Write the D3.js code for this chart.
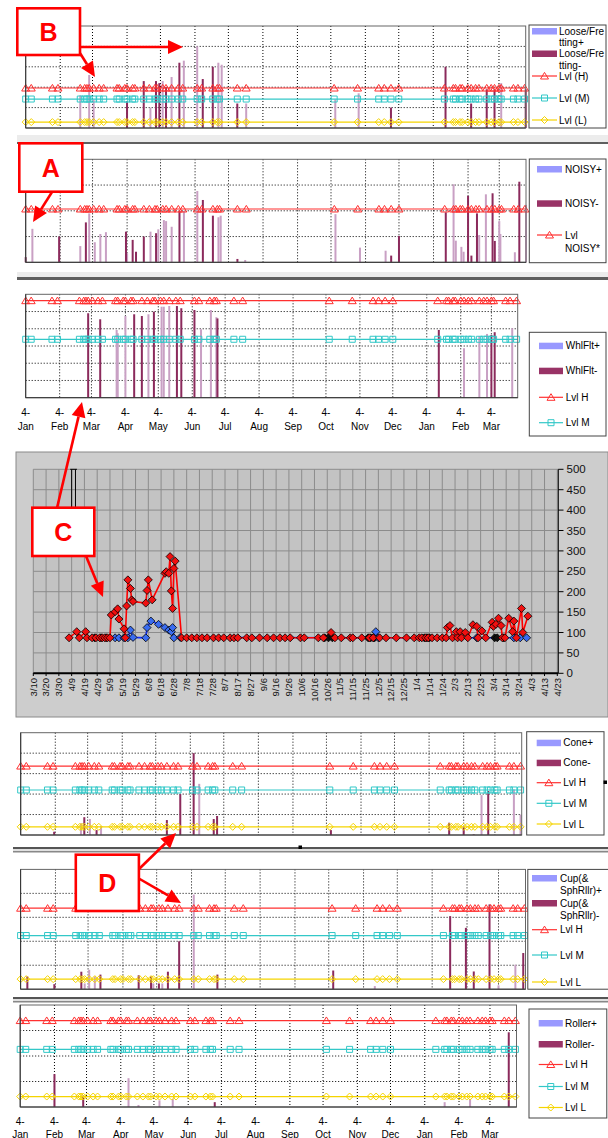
<!DOCTYPE html>
<meta charset="utf-8">
<style>
  body { margin: 0; background: #fff; }
  svg { display: block; font-family: "Liberation Sans", Arial, sans-serif; }
</style>
<svg width="608" height="1138"></svg>
<script src="https://d3js.org/d3.v7.min.js"></script>
<script>
var parse = d3.timeParse("%Y-%m-%d");

// ---------- data ----------
var monthNames = ["Jan", "Feb", "Mar", "Apr", "May", "Jun", "Jul", "Aug", "Sep", "Oct", "Nov", "Dec", "Jan", "Feb", "Mar"];

var inspectionDates = ["2004-01-04", "2004-01-09", "2004-01-28", "2004-02-02", "2004-02-22", "2004-02-26", "2004-02-28",
  "2004-03-01", "2004-03-05", "2004-03-10", "2004-03-14", "2004-03-26", "2004-03-28", "2004-04-02", "2004-04-04",
  "2004-04-09", "2004-04-11", "2004-04-19", "2004-04-24", "2004-04-29", "2004-05-01", "2004-05-06", "2004-05-09",
  "2004-05-14", "2004-05-20", "2004-05-24", "2004-06-06", "2004-06-10", "2004-06-20", "2004-06-24", "2004-06-26",
  "2004-07-12", "2004-07-20", "2004-10-07", "2004-10-28", "2004-11-16", "2004-11-21", "2004-11-27", "2004-12-04",
  "2005-01-14", "2005-01-22", "2005-01-24", "2005-01-28", "2005-01-30", "2005-02-04", "2005-02-07", "2005-02-11",
  "2005-02-14", "2005-02-21", "2005-02-25", "2005-02-28", "2005-03-04", "2005-03-06", "2005-03-17", "2005-03-21",
  "2005-03-27"];

var looseUp = [["2004-02-22", 1.6], ["2004-03-01", 2.6], ["2004-03-05", 1.4], ["2004-04-25", 1.0], ["2004-05-06", 2.3],
  ["2004-05-14", 2.5], ["2004-05-25", 3.3], ["2004-06-06", 4.0], ["2004-06-25", 3.2], ["2004-06-28", 3.1],
  ["2004-07-20", 1.2], ["2004-10-08", 1.4], ["2004-10-29", 1.7], ["2005-03-06", 2.2]];
var looseDown = [["2004-04-04", 1.3], ["2004-04-19", 2.3], ["2004-04-30", 2.3], ["2004-05-03", 2.2], ["2004-05-09", 2.0],
  ["2004-05-21", 3.2], ["2004-06-11", 2.4], ["2004-06-20", 3.0], ["2004-07-12", 1.2], ["2004-11-27", 1.0],
  ["2005-01-15", 3.0], ["2005-02-07", 1.2], ["2005-02-21", 1.9], ["2005-02-28", 1.9], ["2005-03-28", 1.9]];
var looseLevels = [1.96, 1.42, 0.29];

var noisyUp = [["2004-01-10", 1.3], ["2004-02-22", 0.63], ["2004-03-01", 1.9], ["2004-03-06", 0.78], ["2004-03-11", 1.1],
  ["2004-03-16", 1.17], ["2004-04-04", 0.35], ["2004-04-25", 1.19], ["2004-05-02", 1.28], ["2004-05-07", 1.64],
  ["2004-05-09", 1.6], ["2004-05-14", 1.38], ["2004-05-25", 2.0], ["2004-06-06", 2.77], ["2004-06-25", 1.75],
  ["2004-06-27", 1.81], ["2004-07-19", 0.09], ["2004-10-08", 1.87], ["2004-10-30", 0.57], ["2004-11-22", 0.45],
  ["2005-01-22", 3.03], ["2005-01-24", 0.84], ["2005-01-29", 0.6], ["2005-01-31", 0.41], ["2005-02-14", 1.06],
  ["2005-02-20", 2.64], ["2005-03-04", 1.6], ["2005-03-05", 1.1], ["2005-03-18", 0.39], ["2005-03-28", 2.23]];
var noisyDown = [["2004-01-04", 0.2], ["2004-02-03", 1.0], ["2004-02-27", 1.55], ["2004-04-03", 1.19], ["2004-04-09", 0.87],
  ["2004-04-12", 0.41], ["2004-04-19", 1.0], ["2004-04-30", 1.13], ["2004-05-21", 2.0], ["2004-06-11", 2.42],
  ["2004-06-20", 1.81], ["2004-07-12", 0.13], ["2004-11-27", 0.26], ["2004-12-04", 1.02], ["2005-01-15", 1.94],
  ["2005-02-04", 2.58], ["2005-02-07", 0.26], ["2005-02-12", 1.9], ["2005-02-26", 2.68], ["2005-02-28", 0.83],
  ["2005-03-22", 3.13]];
var noisyLevels = [2.07];

var whlUp = [["2004-03-27", 3.93], ["2004-03-28", 3.74], ["2004-04-04", 4.74], ["2004-04-25", 4.84], ["2004-05-07", 5.28],
  ["2004-05-09", 5.28], ["2004-05-14", 5.32], ["2004-06-12", 3.97], ["2004-06-21", 5.09], ["2004-06-26", 4.67],
  ["2005-02-07", 2.87], ["2005-02-21", 3.58], ["2005-02-28", 3.7], ["2005-03-23", 4.03]];
var whlDown = [["2004-03-01", 4.9], ["2004-03-12", 4.55], ["2004-04-12", 4.84], ["2004-04-19", 4.74], ["2004-04-30", 4.99],
  ["2004-05-21", 5.32], ["2004-05-25", 5.19], ["2004-06-06", 5.09], ["2004-06-27", 4.6], ["2005-01-15", 3.93],
  ["2005-03-04", 3.64], ["2005-03-07", 3.8]];
var whlLevels = [5.63, 3.39];

var coneUp = [["2004-02-27", 0.57], ["2004-03-06", 0.78], ["2004-03-16", 0.44], ["2004-06-12", 2.5], ["2005-02-20", 1.95],
  ["2005-03-21", 2.23], ["2005-03-27", 1.0]];
var coneDown = [["2004-02-03", 0.16], ["2004-03-01", 0.87], ["2004-03-12", 0.24], ["2004-05-14", 0.73], ["2004-05-26", 2.0],
  ["2004-06-07", 4.0], ["2004-06-25", 0.78], ["2004-06-28", 0.93], ["2004-10-08", 0.24], ["2005-01-22", 0.6],
  ["2005-02-04", 0.4], ["2005-02-13", 0.03], ["2005-02-26", 2.15]];
var coneLevels = [3.37, 2.2, 0.4];

var cupUp = [["2004-03-01", 0.24], ["2004-03-05", 0.81], ["2004-03-10", 0.53], ["2004-05-01", 0.24], ["2004-05-09", 0.24],
  ["2004-06-06", 3.95], ["2004-11-14", 0.13], ["2005-03-04", 0.16], ["2005-03-19", 1.02]];
var cupDown = [["2004-01-10", 0.53], ["2004-02-03", 0.21], ["2004-02-27", 0.73], ["2004-03-15", 0.61], ["2004-04-18", 0.58],
  ["2004-04-29", 0.53], ["2004-05-06", 0.24], ["2004-05-14", 0.73], ["2004-05-24", 2.0], ["2004-06-27", 0.61],
  ["2004-10-08", 0.78], ["2005-01-20", 3.05], ["2005-02-03", 2.56], ["2005-02-10", 0.74], ["2005-02-24", 3.54],
  ["2005-03-26", 1.51]];
var cupLevels = [3.38, 2.24, 0.42];

var rollerUp = [["2004-04-11", 1.13], ["2004-04-20", 0.08], ["2004-05-09", 0.26], ["2004-05-21", 0.32], ["2005-01-22", 0.19],
  ["2005-02-14", 0.32]];
var rollerDown = [["2004-02-04", 1.29], ["2004-03-01", 0.45], ["2004-06-28", 0.19], ["2005-03-21", 2.93]];
var rollerLevels = [3.39, 2.26, 0.41];

// grey chart (3/10 .. 4/23)
var gcRed = [["2003-04-07", 87], ["2003-04-13", 102], ["2003-04-15", 87], ["2003-04-20", 102], ["2003-04-21", 87],
  ["2003-04-25", 87], ["2003-04-28", 87], ["2003-05-01", 87], ["2003-05-03", 87], ["2003-05-05", 87], ["2003-05-07", 87],
  ["2003-05-09", 87], ["2003-05-10", 143], ["2003-05-13", 151], ["2003-05-15", 158], ["2003-05-16", 133], ["2003-05-20", 109],
  ["2003-05-21", 87], ["2003-05-22", 165], ["2003-05-23", 229], ["2003-05-25", 208], ["2003-05-26", 180], ["2003-05-27", 176],
  ["2003-06-06", 172], ["2003-06-07", 203], ["2003-06-08", 229], ["2003-06-11", 180], ["2003-06-21", 245], ["2003-06-22", 249],
  ["2003-06-24", 245], ["2003-06-25", 286], ["2003-06-26", 202], ["2003-06-27", 159], ["2003-06-28", 257], ["2003-06-29", 275],
  ["2003-07-04", 87], ["2003-07-08", 87], ["2003-07-12", 87], ["2003-07-16", 87], ["2003-07-20", 87], ["2003-07-24", 87],
  ["2003-07-29", 87], ["2003-08-02", 87], ["2003-08-06", 87], ["2003-08-11", 87], ["2003-08-14", 87], ["2003-08-17", 87],
  ["2003-08-24", 87], ["2003-08-28", 87], ["2003-09-03", 87], ["2003-09-09", 87], ["2003-09-14", 87], ["2003-09-19", 87],
  ["2003-09-23", 87], ["2003-09-27", 87], ["2003-10-05", 87], ["2003-10-08", 87], ["2003-10-19", 87], ["2003-10-23", 87],
  ["2003-10-29", 100], ["2003-11-01", 87], ["2003-11-06", 87], ["2003-11-13", 87], ["2003-11-15", 87], ["2003-11-22", 87],
  ["2003-11-28", 87], ["2003-12-01", 87], ["2003-12-06", 87], ["2003-12-11", 87], ["2003-12-19", 87], ["2003-12-27", 87],
  ["2004-01-02", 87], ["2004-01-06", 87], ["2004-01-08", 87], ["2004-01-11", 87], ["2004-01-13", 87], ["2004-01-16", 87],
  ["2004-01-20", 87], ["2004-01-24", 87], ["2004-01-27", 87], ["2004-01-28", 112], ["2004-01-30", 117], ["2004-02-01", 87],
  ["2004-02-04", 102], ["2004-02-05", 87], ["2004-02-07", 102], ["2004-02-08", 87], ["2004-02-11", 100], ["2004-02-13", 87],
  ["2004-02-17", 119], ["2004-02-20", 115], ["2004-02-21", 87], ["2004-02-24", 104], ["2004-02-27", 87], ["2004-03-03", 125],
  ["2004-03-04", 115], ["2004-03-06", 120], ["2004-03-08", 135], ["2004-03-10", 117], ["2004-03-11", 87], ["2004-03-13", 87],
  ["2004-03-16", 135], ["2004-03-19", 102], ["2004-03-20", 128], ["2004-03-22", 87], ["2004-03-26", 159], ["2004-03-27", 100],
  ["2004-03-31", 140]];
var gcBlue = [["2003-05-13", 87], ["2003-05-16", 87], ["2003-05-20", 87], ["2003-05-23", 87], ["2003-05-25", 106],
  ["2003-05-27", 88], ["2003-06-06", 87], ["2003-06-07", 112], ["2003-06-10", 128], ["2003-06-16", 120], ["2003-06-21", 112],
  ["2003-06-24", 106], ["2003-06-26", 102], ["2003-06-27", 112], ["2003-06-28", 87], ["2003-07-03", 88], ["2003-12-01", 87],
  ["2003-12-03", 102], ["2003-12-05", 87], ["2004-02-20", 87], ["2004-03-20", 87], ["2004-03-25", 87], ["2004-03-30", 87]];
var gcBlack = [["2003-04-27", 87], ["2003-05-02", 87], ["2003-05-06", 87], ["2003-10-24", 87], ["2003-10-27", 87],
  ["2003-10-30", 87], ["2003-11-27", 87], ["2003-11-29", 87], ["2003-12-02", 87], ["2004-01-10", 87], ["2004-01-12", 87],
  ["2004-01-14", 87], ["2004-03-05", 87], ["2004-03-07", 87], ["2004-03-12", 87]];
var gcSpikeDates = ["2003-04-09", "2003-04-12"];
var gcSpikeRange = [380, 500];
var gcYTicks = d3.range(0, 501, 50);

// ---------- drawing ----------
var svg = d3.select("svg");
svg.append("rect").attr("width", 608).attr("height", 1138).attr("fill", "#fff");

var dateDomain = [parse("2004-01-04"), parse("2005-03-28")];
var monthTicks = d3.range(15).map(function (i) { return d3.timeMonth.offset(dateDomain[0], i); });

var colUp = "#c9a0c4", colDown = "#8b2a5c", legUp = "#9999ff", legDown = "#993366";
var lvlColor = { H: "#ff3030", M: "#33c8c8", L: "#f5d400" };
var lvlShape = {
  H: "M0,-3.6L4,3L-4,3Z",
  M: "M-3,-3h6v6h-6Z",
  L: "M0,-3.5L3.5,0L0,3.5L-3.5,0Z"
};

function addMarker(g, kind, x, y) {
  g.append("path").attr("d", lvlShape[kind]).attr("transform", "translate(" + x + "," + y + ")")
    .attr("fill", "none").attr("stroke", lvlColor[kind]).attr("stroke-width", 1);
}

function stripPanel(p) {
  var g = svg.append("g");
  var x = d3.scaleTime().domain(dateDomain).range([p.x0, p.x1]);
  var y = d3.scaleLinear().domain([0, p.yMax]).range([p.y1, p.y0]);

  g.append("rect").attr("x", p.x0).attr("y", p.y0).attr("width", p.x1 - p.x0).attr("height", p.y1 - p.y0)
    .attr("fill", "#fff");

  g.selectAll(".vg").data(monthTicks.slice(1)).enter().append("line")
    .attr("x1", function (d) { return x(d); }).attr("x2", function (d) { return x(d); })
    .attr("y1", p.y0).attr("y2", p.y1)
    .attr("stroke", "#000").attr("stroke-dasharray", "1,2");
  g.selectAll(".hg").data(d3.range(1, p.yMax)).enter().append("line")
    .attr("x1", p.x0).attr("x2", p.x1)
    .attr("y1", function (d) { return y(d); }).attr("y2", function (d) { return y(d); })
    .attr("stroke", "#000").attr("stroke-dasharray", "1,2");

  [[p.up, colUp], [p.down, colDown]].forEach(function (s) {
    g.selectAll(null).data(s[0]).enter().append("rect")
      .attr("x", function (d) { return x(parse(d[0])) - 1; })
      .attr("y", function (d) { return y(d[1]); })
      .attr("width", 2)
      .attr("height", function (d) { return p.y1 - y(d[1]); })
      .attr("fill", s[1]);
  });

  var kinds = ["H", "M", "L"];
  p.levels.forEach(function (v, i) {
    var k = kinds[i];
    g.append("line").attr("x1", p.x0).attr("x2", p.x1).attr("y1", y(v)).attr("y2", y(v))
      .attr("stroke", lvlColor[k]).attr("stroke-width", 1.2);
    inspectionDates.forEach(function (d) { addMarker(g, k, x(parse(d)), y(v)); });
  });

  g.append("rect").attr("x", p.x0).attr("y", p.y0).attr("width", p.x1 - p.x0).attr("height", p.y1 - p.y0)
    .attr("fill", "none").attr("stroke", "#666");
  g.append("path").attr("d", "M" + p.x0 + "," + p.y0 + "V" + p.y1 + "H" + p.x1)
    .attr("fill", "none").attr("stroke", "#333");

  if (p.axisY) {
    monthTicks.forEach(function (d, i) {
      g.append("text").attr("x", x(d)).attr("y", p.axisY[0]).attr("text-anchor", "middle")
        .attr("font-size", "10px").text("4-");
      g.append("text").attr("x", x(d)).attr("y", p.axisY[1]).attr("text-anchor", "middle")
        .attr("font-size", "10px").text(monthNames[i]);
    });
  }

  var L = p.legend;
  g.append("rect").attr("x", L.box[0]).attr("y", L.box[1]).attr("width", L.box[2] - L.box[0])
    .attr("height", L.box[3] - L.box[1]).attr("fill", "#fff").attr("stroke", "#444");
  L.items.forEach(function (it) {
    var kind = it[0], yy = it[1];
    if (kind === "up" || kind === "down") {
      g.append("rect").attr("x", L.sw[0]).attr("y", yy - 3).attr("width", L.sw[1] - L.sw[0]).attr("height", 6.5)
        .attr("fill", kind === "up" ? legUp : legDown);
    } else {
      g.append("line").attr("x1", L.sw[0]).attr("x2", L.sw[1]).attr("y1", yy).attr("y2", yy)
        .attr("stroke", lvlColor[kind]).attr("stroke-width", 1.2);
      addMarker(g, kind, (L.sw[0] + L.sw[1]) / 2, yy);
    }
    it[2].forEach(function (t, j) {
      g.append("text").attr("x", L.tx).attr("y", yy + 3.6 + j * (L.lh || 13)).attr("font-size", "10px").text(t);
    });
  });
}

// separators / chart-area frames
function band(x, y, w, h, c) {
  svg.append("rect").attr("x", x).attr("y", y).attr("width", w).attr("height", h).attr("fill", c);
}
band(17, 135, 591, 7, "#ececec");
band(17, 142, 591, 2, "#5f5f5f");
band(17, 272, 591, 5, "#ececec");
band(17, 277, 591, 3, "#5f5f5f");
band(13, 847, 595, 2, "#555");
band(13, 849, 595, 2, "#e0e0e0");
band(13, 851, 595, 1.5, "#888");
band(13, 997, 595, 2, "#555");
band(13, 999, 595, 2, "#e0e0e0");
band(13, 1001, 595, 1.5, "#888");

var panels = [
  { up: looseUp, down: looseDown, levels: looseLevels, yMax: 5, x0: 25.7, x1: 525.7, y0: 26, y1: 128,
    legend: { box: [529, 25, 606, 128], sw: [532, 557], tx: 559, lh: 11.5,
      items: [["up", 31, ["Loose/Fre", "tting+"]], ["down", 53.5, ["Loose/Fre", "tting-"]],
        ["H", 76, ["Lvl (H)"]], ["M", 98, ["Lvl (M)"]], ["L", 120, ["Lvl (L)"]]] } },
  { up: noisyUp, down: noisyDown, levels: noisyLevels, yMax: 4, x0: 25.7, x1: 526, y0: 159.3, y1: 262.3,
    legend: { box: [529.3, 159, 606, 262.7], sw: [537, 562], tx: 565,
      items: [["up", 169, ["NOISY+"]], ["down", 203.3, ["NOISY-"]], ["H", 235, ["Lvl", "NOISY*"]]] } },
  { up: whlUp, down: whlDown, levels: whlLevels, yMax: 6, x0: 25.7, x1: 517.7, y0: 294.3, y1: 397.7,
    axisY: [416, 429.5],
    legend: { box: [529.3, 332.3, 606, 436], sw: [539, 563], tx: 565.7,
      items: [["up", 345.7, ["WhlFlt+"]], ["down", 370.7, ["WhlFlt-"]], ["H", 397.3, ["Lvl H"]], ["M", 422.7, ["Lvl M"]]] } },
  { up: coneUp, down: coneDown, levels: coneLevels, yMax: 5, x0: 20.7, x1: 521.7, y0: 732.7, y1: 835,
    legend: { box: [526.7, 731.7, 604, 835], sw: [536.7, 561], tx: 563.3,
      items: [["up", 742.7, ["Cone+"]], ["down", 762.7, ["Cone-"]], ["H", 782.7, ["Lvl H"]],
        ["M", 803.3, ["Lvl M"]], ["L", 824, ["Lvl L"]]] } },
  { up: cupUp, down: cupDown, levels: cupLevels, yMax: 5, x0: 20.6, x1: 525.5, y0: 869.4, y1: 989.2,
    legend: { box: [527.8, 869.4, 612, 989.2], sw: [532, 557], tx: 560, lh: 12.5,
      items: [["up", 878, ["Cup(&", "SphRllr)+"]], ["down", 903, ["Cup(&", "SphRllr)-"]],
        ["H", 929.7, ["Lvl H"]], ["M", 955, ["Lvl M"]], ["L", 982, ["Lvl L"]]] } },
  { up: rollerUp, down: rollerDown, levels: rollerLevels, yMax: 4, x0: 20.2, x1: 516.5, y0: 1005, y1: 1107,
    axisY: [1124.5, 1137.5],
    legend: { box: [529, 1009, 606.8, 1118], sw: [538.7, 562.8], tx: 565,
      items: [["up", 1023, ["Roller+"]], ["down", 1044, ["Roller-"]], ["H", 1064.5, ["Lvl H"]],
        ["M", 1086.5, ["Lvl M"]], ["L", 1107.5, ["Lvl L"]]] } }
];
panels.forEach(stripPanel);

// selection handles
[[300, 847], [605, 782]].forEach(function (h) { band(h[0] - 1.5, h[1] - 1.5, 3.5, 3.5, "#000"); });

// ---------- grey chart ----------
(function () {
  var g = svg.append("g");
  var start = parse("2003-03-10");
  var gx = d3.scaleTime().domain([start, parse("2004-04-23")]).range([33.3, 557.3]);
  var gy = d3.scaleLinear().domain([0, 500]).range([673.3, 469.3]);
  var ticks = d3.range(42).map(function (i) { return d3.timeDay.offset(start, i * 10); });
  var fmt = d3.timeFormat("%-m/%-d");

  g.append("rect").attr("x", 16).attr("y", 452).attr("width", 592).attr("height", 265)
    .attr("fill", "#cdcdcd").attr("stroke", "#8a8a8a");
  g.append("rect").attr("x", 33.3).attr("y", 469.3).attr("width", 525).attr("height", 204).attr("fill", "#c3c3c3");

  g.selectAll(".gv").data(ticks).enter().append("line")
    .attr("x1", function (d) { return gx(d); }).attr("x2", function (d) { return gx(d); })
    .attr("y1", 469.3).attr("y2", 673.3).attr("stroke", "#8c8c8c");
  g.selectAll(".gh").data(gcYTicks).enter().append("line")
    .attr("x1", 33.3).attr("x2", 558.3)
    .attr("y1", function (d) { return gy(d); }).attr("y2", function (d) { return gy(d); })
    .attr("stroke", "#8c8c8c");

  // right axis
  g.append("line").attr("x1", 558.3).attr("x2", 558.3).attr("y1", 469.3).attr("y2", 673.3).attr("stroke", "#000");
  g.selectAll(".yt").data(gcYTicks).enter().append("line")
    .attr("x1", 558.3).attr("x2", 563.5)
    .attr("y1", function (d) { return gy(d); }).attr("y2", function (d) { return gy(d); }).attr("stroke", "#000");
  g.selectAll(".yl").data(gcYTicks).enter().append("text")
    .attr("x", 566.5).attr("y", function (d) { return gy(d) + 4; })
    .attr("font-size", "11.5px").attr("fill", "#111").text(function (d) { return d; });

  // bottom axis
  g.append("line").attr("x1", 33.3).attr("x2", 558.3).attr("y1", 673.3).attr("y2", 673.3)
    .attr("stroke", "#000").attr("stroke-width", 2);
  g.selectAll(".xt").data(ticks).enter().append("line")
    .attr("x1", function (d) { return gx(d); }).attr("x2", function (d) { return gx(d); })
    .attr("y1", 673).attr("y2", 676).attr("stroke", "#000");
  g.selectAll(".xl").data(ticks).enter().append("text")
    .attr("transform", function (d) { return "translate(" + (gx(d) + 3.3) + ",678)rotate(-90)"; })
    .attr("text-anchor", "end").attr("font-size", "9.5px").attr("fill", "#111")
    .text(function (d) { return fmt(d); });

  // spike at left
  gcSpikeDates.forEach(function (d) {
    g.append("line").attr("x1", gx(parse(d))).attr("x2", gx(parse(d)))
      .attr("y1", gy(gcSpikeRange[1])).attr("y2", gy(gcSpikeRange[0])).attr("stroke", "#000");
  });
  g.append("line").attr("x1", gx(parse(gcSpikeDates[0])) - 1.5).attr("x2", gx(parse(gcSpikeDates[1])) + 1.5)
    .attr("y1", gy(gcSpikeRange[1])).attr("y2", gy(gcSpikeRange[1])).attr("stroke", "#000");

  var line = d3.line().x(function (d) { return gx(parse(d[0])); }).y(function (d) { return gy(d[1]); });
  g.append("path").attr("d", line(gcBlue)).attr("fill", "none").attr("stroke", "#1030ff").attr("stroke-width", 1.6);
  g.append("path").attr("d", line(gcRed)).attr("fill", "none").attr("stroke", "#ff0000").attr("stroke-width", 1.6);

  var dia = "M0,-4L4,0L0,4L-4,0Z";
  function marks(data, fill) {
    g.selectAll(null).data(data).enter().append("path").attr("d", dia)
      .attr("transform", function (d) { return "translate(" + gx(parse(d[0])) + "," + gy(d[1]) + ")"; })
      .attr("fill", fill).attr("stroke", "#000").attr("stroke-width", 0.8);
  }
  marks(gcBlack, "#111");
  marks(gcBlue, "#3a6cf0");
  marks(gcRed, "#f01010");
})();

// ---------- annotations ----------
var annArrows = [[80, 47, 183, 47], [78, 50, 95, 77], [52, 192, 33, 222], [57, 508, 82, 402],
  [86, 556, 103, 597], [138, 870, 176, 833], [138, 878, 181, 903]];
var annBoxes = [["B", 17.3, 8.3, 80, 55], ["A", 19.3, 143.3, 82.3, 191.7], ["C", 32.3, 507.7, 94.3, 556],
  ["D", 75.8, 854.7, 138.9, 911]];

annArrows.forEach(function (a) {
  var ang = Math.atan2(a[3] - a[1], a[2] - a[0]), len = 15, w = 7;
  var bx = a[2] - len * Math.cos(ang), by = a[3] - len * Math.sin(ang);
  svg.append("line").attr("x1", a[0]).attr("y1", a[1]).attr("x2", bx).attr("y2", by)
    .attr("stroke", "#ff0000").attr("stroke-width", 2.6);
  svg.append("path").attr("d", "M" + a[2] + "," + a[3] +
      "L" + (bx + w * Math.sin(ang)) + "," + (by - w * Math.cos(ang)) +
      "L" + (bx - w * Math.sin(ang)) + "," + (by + w * Math.cos(ang)) + "Z")
    .attr("fill", "#ff0000");
});
annBoxes.forEach(function (b) {
  svg.append("rect").attr("x", b[1]).attr("y", b[2]).attr("width", b[3] - b[1]).attr("height", b[4] - b[2])
    .attr("fill", "#fff").attr("stroke", "#ff0000").attr("stroke-width", 2.6);
  svg.append("text").attr("x", (b[1] + b[3]) / 2).attr("y", (b[2] + b[4]) / 2 + 9)
    .attr("text-anchor", "middle").attr("font-size", "25px").attr("font-weight", "bold")
    .attr("fill", "#ff0000").text(b[0]);
});
</script>
